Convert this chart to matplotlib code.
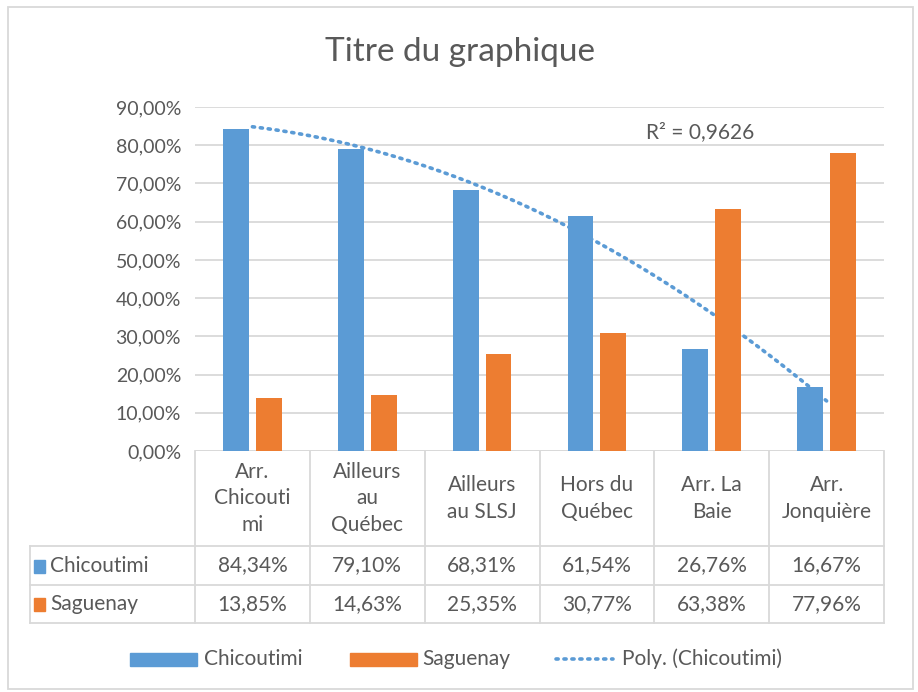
import matplotlib.pyplot as plt
from matplotlib.patches import Rectangle
import numpy as np

# Données
categories = ["Arr.\nChicouti\nmi", "Ailleurs\nau\nQuébec", "Ailleurs\nau SLSJ",
              "Hors du\nQuébec", "Arr. La\nBaie", "Arr.\nJonquière"]
chicoutimi = [84.34, 79.10, 68.31, 61.54, 26.76, 16.67]
saguenay = [13.85, 14.63, 25.35, 30.77, 63.38, 77.96]
series_names = ["Chicoutimi", "Saguenay"]
r2_label = "R² = 0,9626"

blue = "#5B9BD5"
orange = "#ED7D31"
grid_c = "#D9D9D9"
txt = "#595959"
fs = 15

plt.rcParams['font.family'] = ['Lato', 'DejaVu Sans']

W, H = 918, 692
fig = plt.figure(figsize=(W / 100, H / 100), dpi=100)

# axe principal (coordonnées en pixels -> fractions)
x0, x1, ytop, ybot = 195, 884, 107, 451
ax = fig.add_axes([x0 / W, 1 - ybot / H, (x1 - x0) / W, (ybot - ytop) / H])
n = len(categories)
x = np.arange(1, n + 1)
bw = 0.225
ax.bar(x - 0.143, chicoutimi, bw, color=blue, zorder=3)
ax.bar(x + 0.143, saguenay, bw, color=orange, zorder=3)

# courbe de tendance polynomiale (ordre 2), dessinée sous les barres
coef = np.polyfit(x, chicoutimi, 2)
xs = np.linspace(1, n, 200)
ax.plot(xs, np.polyval(coef, xs), color=blue, lw=2.6, ls=(0, (0.6, 1.6)),
        dash_capstyle='round', zorder=2)
ax.text(4.9, 83.5, r2_label, fontsize=fs, color=txt, ha='center', va='center')

ax.set_xlim(0.5, n + 0.5)
ax.set_ylim(0, 90)
ax.set_yticks(np.arange(0, 91, 10))
ax.set_yticklabels([f"{v:.2f}%".replace(".", ",") for v in np.arange(0, 91, 10)],
                   fontsize=14, color=txt)
ax.set_xticks([])
ax.tick_params(axis='y', length=0, pad=10)
ax.yaxis.grid(True, color=grid_c, lw=1.3, zorder=0)
for s in ax.spines.values():
    s.set_visible(False)
ax.axhline(0, color=grid_c, lw=1.3, zorder=1)

# calque en pixels pour tableau, titre, légende et bordure
ov = fig.add_axes([0, 0, 1, 1], zorder=-1)
ov.set_xlim(0, W)
ov.set_ylim(H, 0)
ov.axis('off')
ov.add_patch(Rectangle((8, 7), 905, 682, fill=False, ec="#D9D9D9", lw=1.3))

ov.text(460, 52, "Titre du graphique", fontsize=24, color=txt, ha='center', va='center')

# tableau de données
col_edges = np.linspace(x0, x1, n + 1)
y_hdr, y_r1, y_r2 = 546, 585, 623
lx = 30
lc = grid_c
for xe in col_edges:
    ov.plot([xe, xe], [ybot, y_r2], color=lc, lw=1.3)
ov.plot([lx, lx], [y_hdr, y_r2], color=lc, lw=1.3)
for yy in (y_hdr, y_r1, y_r2):
    ov.plot([lx, x1], [yy, yy], color=lc, lw=1.3)

for i, cat in enumerate(categories):
    cx = (col_edges[i] + col_edges[i + 1]) / 2
    ov.text(cx, (ybot + y_hdr) / 2, cat, fontsize=fs, color=txt, ha='center',
            va='center', linespacing=1.4)
    ov.text(cx, (y_hdr + y_r1) / 2, f"{chicoutimi[i]:.2f}%".replace(".", ","),
            fontsize=fs, color=txt, ha='center', va='center')
    ov.text(cx, (y_r1 + y_r2) / 2, f"{saguenay[i]:.2f}%".replace(".", ","),
            fontsize=fs, color=txt, ha='center', va='center')

for j, (name, c) in enumerate(zip(series_names, [blue, orange])):
    yc = (y_hdr + y_r1) / 2 if j == 0 else (y_r1 + y_r2) / 2
    ov.add_patch(Rectangle((34, yc - 6), 11, 13, color=c))
    ov.text(50, yc, name, fontsize=fs, color=txt, ha='left', va='center')

# légende
ly = 659
ov.add_patch(Rectangle((130, ly - 6), 67, 13, color=blue))
ov.text(204, ly, series_names[0], fontsize=fs, color=txt, va='center')
ov.add_patch(Rectangle((350, ly - 6), 67, 13, color=orange))
ov.text(422, ly, series_names[1], fontsize=fs, color=txt, va='center')
ov.plot([556, 613], [ly, ly], color=blue, lw=2.6, ls=(0, (0.6, 1.6)),
        dash_capstyle='round')
ov.text(622, ly, "Poly. (Chicoutimi)", fontsize=fs, color=txt, va='center')

fig.savefig("out.png", dpi=100)
